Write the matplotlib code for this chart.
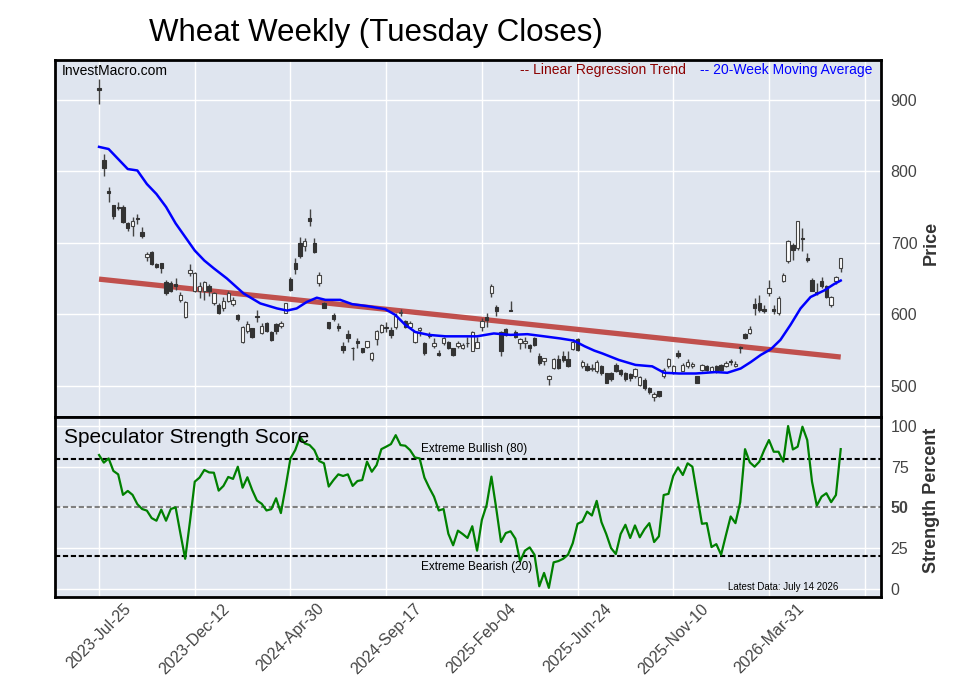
import numpy as np
import matplotlib.pyplot as plt

plt.rcParams['font.family'] = ['Liberation Sans', 'DejaVu Sans']

# weekly candles, week 0 = 2023-Jul-25, last = 2026-Jul-14
opens = [917, 816, 772, 752, 750, 750, 728, 723, 735, 715, 680, 687, 670, 671, 645, 644, 642, 620, 596, 657,
         633, 633, 633, 640, 615, 613, 608, 619, 614, 599, 561, 576, 580, 597, 574, 588, 575, 586, 584, 602,
         649, 672, 699, 696, 735, 700, 643, 615, 589, 599, 583, 556, 572, 553, 562, 552, 554, 537, 565, 575,
         582, 578, 582, 601, 590, 582, 561, 578, 560, 571, 556, 545, 559, 561, 552, 555, 552, 560, 549, 553,
         582, 596, 630, 610, 575, 579, 606, 575, 559, 559, 557, 566, 541, 535, 509, 524, 537, 541, 537, 551,
         565, 527, 528, 523, 520, 527, 517, 517, 529, 522, 517, 516, 513, 501, 508, 496, 484, 492, 513, 527,
         517, 546, 521, 527, 528, 513, 522, 527, 521, 527, 529, 527, 534, 527, 554, 572, 574, 614, 616, 607,
         630, 607, 602, 647, 674, 697, 692, 707, 678, 648, 631, 647, 640, 613, 647, 665]
highs = [929, 824, 778, 752, 757, 752, 729, 736, 740, 722, 687, 688, 672, 672, 648, 646, 650, 631, 618, 670,
         659, 645, 647, 642, 631, 615, 624, 633, 624, 600, 583, 590, 581, 606, 587, 589, 577, 587, 591, 616,
         652, 678, 708, 707, 747, 706, 659, 617, 589, 601, 588, 561, 578, 554, 566, 553, 563, 547, 578, 586,
         589, 582, 601, 607, 592, 590, 577, 582, 561, 575, 566, 550, 568, 563, 553, 562, 560, 568, 576, 568,
         594, 601, 642, 613, 577, 580, 619, 578, 566, 568, 558, 568, 545, 539, 515, 538, 543, 549, 549, 565,
         566, 536, 531, 530, 536, 529, 518, 519, 531, 523, 519, 518, 525, 513, 510, 498, 491, 493, 524, 539,
         529, 550, 531, 537, 533, 514, 530, 529, 528, 529, 530, 534, 537, 534, 555, 573, 583, 622, 627, 613,
         648, 613, 625, 658, 704, 700, 731, 720, 686, 650, 644, 652, 641, 626, 653, 679]
lows = [894, 793, 757, 733, 745, 727, 716, 709, 726, 707, 675, 669, 664, 657, 627, 631, 634, 617, 595, 654,
        631, 622, 620, 625, 613, 600, 605, 617, 612, 591, 559, 574, 567, 589, 572, 575, 563, 572, 580, 601,
        632, 656, 679, 689, 723, 686, 640, 608, 579, 591, 577, 545, 561, 536, 552, 545, 553, 535, 557, 574,
        575, 566, 579, 598, 580, 580, 560, 570, 543, 566, 552, 541, 557, 551, 542, 553, 551, 554, 549, 552,
        577, 582, 624, 597, 541, 569, 604, 566, 551, 552, 547, 555, 529, 529, 501, 523, 523, 533, 526, 550,
        549, 524, 520, 520, 517, 515, 503, 507, 519, 514, 507, 507, 511, 499, 494, 489, 478, 484, 511, 525,
        516, 539, 520, 525, 524, 503, 521, 521, 519, 518, 521, 526, 529, 526, 545, 565, 572, 599, 603, 601,
        625, 600, 599, 645, 672, 676, 690, 689, 673, 632, 627, 636, 623, 610, 642, 659]
closes = [914, 805, 770, 737, 749, 729, 720, 730, 733, 710, 684, 670, 666, 664, 629, 633, 640, 627, 617, 662,
          657, 640, 645, 632, 629, 601, 619, 629, 620, 593, 582, 586, 568, 596, 583, 577, 564, 577, 588, 615,
          634, 663, 682, 702, 730, 687, 655, 609, 580, 593, 581, 550, 566, 552, 560, 547, 562, 546, 577, 585,
          580, 571, 597, 603, 582, 587, 575, 580, 545, 569, 560, 543, 567, 552, 543, 560, 557, 559, 575, 561,
          591, 592, 639, 605, 549, 571, 605, 568, 565, 562, 553, 557, 531, 538, 513, 537, 524, 536, 527, 561,
          550, 533, 522, 525, 533, 517, 504, 509, 521, 516, 509, 510, 523, 512, 496, 491, 489, 485, 522, 537,
          527, 541, 529, 533, 530, 504, 529, 522, 526, 520, 522, 532, 533, 530, 552, 566, 579, 608, 606, 605,
          636, 605, 623, 655, 703, 690, 730, 705, 676, 633, 629, 640, 624, 624, 652, 678]

# 20-week moving average (week, value)
ma_weeks = [0, 2, 4, 6, 8, 10, 12, 14, 16, 18, 20, 22, 24, 26.7, 30.2, 33.7, 37.2, 39.3, 41.3, 43.4,
            45.5, 47.3, 50.4, 52.9, 56.3, 59.8, 61.9, 64, 66.1, 68.9, 72.4, 76.6, 79, 82.5, 86, 89.5, 93,
            96.4, 99.2, 101.5, 103.5, 105.2, 108.6, 112.1, 115.6, 118.1, 121.2, 124.7, 128.9, 131.3, 134.1,
            136.2, 138.3, 140.4, 142.4, 144.5, 146.6, 148.7, 151.5, 153.6, 155]
ma_values = [834, 831, 817, 803, 801, 782, 768, 750, 727, 708, 689, 675, 664, 650, 629, 615, 608, 605, 608, 617,
             623, 620, 620, 614, 611, 607, 599, 585, 575, 571, 569, 569, 569, 573, 571, 572, 569,
             566, 563, 555, 549, 545, 536, 529, 527, 518, 517, 517, 519, 518, 524,
             533, 543, 551, 564, 585, 608, 624, 633, 642, 647]

trend_weeks = [0, 155]
trend_values = [649, 540]

strength = [82.2, 77.5, 80.1, 72.4, 70.3, 57.7, 60.1, 57.7, 52, 49, 48, 43.4, 41.8, 48.6, 41.8, 49, 50, 34, 18.4, 41.3,
            65.8, 68.3, 73, 71.5, 71.3, 60.3, 63.2, 68.7, 67.5, 75, 62.1, 68.5, 60.7, 54.2, 52.2, 48.1, 48.9, 55.6, 46.5, 62.8,
            80.1, 85.2, 93.4, 89.3, 88.3, 85.2, 78.5, 77.1, 62.8, 66.8, 70.3, 69.3, 70.3, 63.2, 66.2, 66.8, 78.1, 71.9, 76, 85.8,
            87.3, 88.9, 94.4, 88.3, 87.9, 85.2, 80.7, 80.1, 68.3, 62.1, 56.6, 48.1, 49, 33.8, 26.7, 35.7, 33.6, 31.2, 38.4, 23.4,
            42.3, 51.5, 68.9, 49.5, 28.7, 34.2, 35.3, 30.8, 16.8, 23.4, 25.4, 20.9, 1.5, 9.7, 0.5, 16.2, 17, 18.4, 20.9, 28,
            39.9, 41.3, 47.4, 45, 54, 40.9, 33.6, 25, 21.3, 33.6, 39.3, 31.2, 38.9, 31.6, 36.6, 40.3, 28.7, 32.2, 57.6, 58.3,
            69.3, 74.6, 69.9, 77.1, 75, 57.6, 39.9, 40.3, 25.6, 27.4, 20.9, 32.8, 44.4, 40.3, 53.2, 85.8, 77.7, 75, 78.1, 85.2,
            91.4, 84.2, 84.2, 78.1, 100, 85.6, 87.3, 99.6, 91.4, 65.8, 51.1, 56.6, 58.7, 53.2, 57.6, 85.8]

tick_weeks = [0, 20, 40, 60, 80, 100, 120, 140, 160]
tick_labels = ['2023-Jul-25', '2023-Dec-12', '2024-Apr-30', '2024-Sep-17', '2025-Feb-04',
               '2025-Jun-24', '2025-Nov-10', '2026-Mar-31', '']


fig = plt.figure(figsize=(9.57, 6.94), dpi=100)
ax1 = fig.add_axes([0.0575, 0.399, 0.863, 0.514])
ax2 = fig.add_axes([0.0575, 0.140, 0.863, 0.259], sharex=ax1)

for ax in (ax1, ax2):
    ax.set_facecolor('#dfe5ef')
    ax.grid(True, color='white', linewidth=1)
    ax.set_axisbelow(True)
    for s in ax.spines.values():
        s.set_linewidth(2)
        s.set_color('black')
    ax.yaxis.tick_right()
    ax.tick_params(axis='both', length=0, labelsize=11.5, labelcolor='#444444')
    ax.tick_params(axis='y', pad=7)
    ax.tick_params(axis='x', pad=3)

# candles
weeks = np.arange(len(closes))
o = np.array(opens)
c = np.array(closes)
up = c >= o
body_lo = np.minimum(o, c)
body_h = np.maximum(np.abs(c - o), 0.8)

ax1.plot(trend_weeks, trend_values, color='#c0504d', linewidth=3.8, zorder=2.5, solid_capstyle='butt')
ax1.vlines(weeks, lows, highs, color='#444444', linewidth=1, zorder=3)
ax1.bar(weeks[up], body_h[up], bottom=body_lo[up], width=0.7, color='white',
        edgecolor='#444444', linewidth=0.8, zorder=3.5)
ax1.bar(weeks[~up], body_h[~up], bottom=body_lo[~up], width=0.7, color='#333333',
        edgecolor='#333333', linewidth=0.8, zorder=3.5)
ax1.plot(ma_weeks, ma_values, color='blue', linewidth=1.8, zorder=4)

ax1.set_ylim(456, 955)
ax1.set_yticks([500, 600, 700, 800, 900])
ax1.set_xlim(-9.2, 163.4)
ax1.tick_params(axis='x', labelbottom=False)

ax1.text(0.0085, 0.989, 'InvestMacro.com', transform=ax1.transAxes, fontsize=10, ha='left', va='top')
ax1.text(0.764, 0.972, '-- Linear Regression Trend', transform=ax1.transAxes, fontsize=10,
         color='darkred', ha='right', va='center')
ax1.text(0.990, 0.972, '-- 20-Week Moving Average', transform=ax1.transAxes, fontsize=10,
         color='blue', ha='right', va='center')

# speculator strength
ax2.axhline(80, color='black', linestyle='--', dashes=(2.5, 1.3), linewidth=1.5, zorder=2)
ax2.axhline(20, color='black', linestyle='--', dashes=(2.5, 1.3), linewidth=1.5, zorder=2)
ax2.axhline(50, color='#808080', linestyle='--', dashes=(2.5, 1.3), linewidth=1.5, zorder=2)
ax2.plot(weeks, strength, color='green', linewidth=1.6, zorder=3)

ax2.set_ylim(-5, 105.5)
ax2.set_yticks([0, 25, 50, 75, 100])
ax2.get_yticklabels()[2].set_fontweight('bold')
ax2.set_xticks(tick_weeks)
ax2.set_xticklabels(tick_labels, rotation=45, ha='center')

ax2.text(0.011, 0.889, 'Speculator Strength Score', transform=ax2.transAxes, fontsize=15,
         ha='left', va='center')
ax2.text(67.2, 86, 'Extreme Bullish (80)', fontsize=8.5, ha='left', va='center')
ax2.text(67.2, 13.5, 'Extreme Bearish (20)', fontsize=8.5, ha='left', va='center')
ax2.text(0.948, 0.056, 'Latest Data: July 14 2026', transform=ax2.transAxes, fontsize=7,
         ha='right', va='center')

fig.text(376 / 957, 1 - 33 / 694, 'Wheat Weekly (Tuesday Closes)', fontsize=22.5, ha='center', va='center')
fig.text(931 / 957, 1 - 243 / 694, 'Price', rotation=90, fontsize=13, fontweight='bold',
         color='#333333', ha='center', va='center')
fig.text(931 / 957, 1 - 500 / 694, 'Strength Percent', rotation=90, fontsize=13, fontweight='bold',
         color='#333333', ha='center', va='center')

plt.savefig('out.png', dpi=100)
